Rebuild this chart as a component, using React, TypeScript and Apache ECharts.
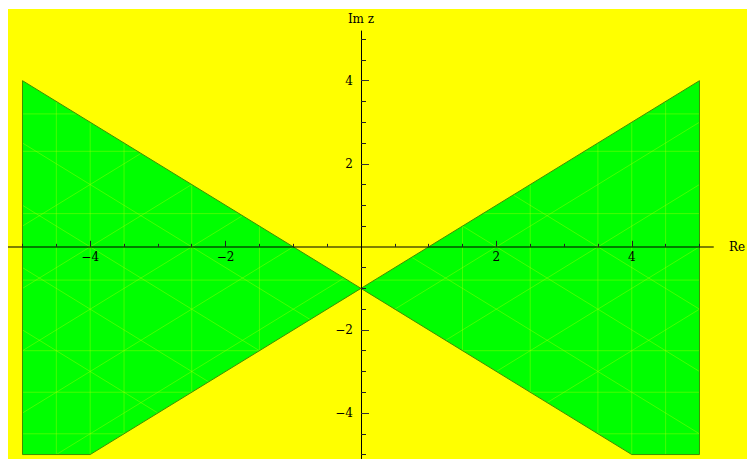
import React, { useEffect, useRef } from "react";
import * as echarts from "echarts";

// Region |Im z + 1| <= |Re z| clipped to the plot box
const leftRegion: [number, number][] = [[-5, 4], [0, -1], [-4, -5], [-5, -5]];
const rightRegion: [number, number][] = [[5, 4], [0, -1], [4, -5], [5, -5]];
const regions = [leftRegion, rightRegion];

// faint plotting-mesh lines inside the regions (data coordinates)
const meshVerticals = [-4.5, -4, -3.5, -2.5, -1.5, 1.5, 2.5, 3.5, 4, 4.5];
const meshHorizontals = [-4.5, -3.5, -2.5, -0.8, 0.8, 2.3, 3.2];
const meshRising = [-6.5, -5, -3.5, -2, -0.5, 1, 2.5, 4, 5.5]; // y = x + c
const meshFalling = [-7, -5.5, -4, -2.5, 0.5, 2, 3.5]; // y = -x + c

const majorTicksX = [-4, -2, 2, 4];
const majorTicksY = [-4, -2, 2, 4];
const minorTicksX = [-5, -4.5, -3.5, -3, -2.5, -1.5, -1, -0.5, 0.5, 1, 1.5, 2.5, 3, 3.5, 4.5, 5];
const minorTicksY = [-5, -4.5, -3.5, -3, -2.5, -1.5, -1, -0.5, 0.5, 1, 1.5, 2.5, 3, 3.5, 4.5, 5];

const xRange = { min: -5.214, max: 5.2 };
const yRange = { min: -5.107, max: 5.196 };

const GRID = { left: 1, top: 22, width: 705, height: 428 };
// pixel position of the origin inside the chart box
const X0 = 354;
const Y0 = 237.85;

const SERIF = "'DejaVu Serif', 'Liberation Serif', serif";
const fmt = (v: number) => String(v).replace("-", "\u2212");

type P = [number, number];

// Cyrus-Beck clip of segment a-b to convex polygon
function clipSegment(a: P, b: P, poly: P[]): [P, P] | null {
  let t0 = 0;
  let t1 = 1;
  const d: P = [b[0] - a[0], b[1] - a[1]];
  let area = 0;
  for (let i = 0; i < poly.length; i++) {
    const p = poly[i];
    const q = poly[(i + 1) % poly.length];
    area += p[0] * q[1] - q[0] * p[1];
  }
  const s = area > 0 ? 1 : -1;
  for (let i = 0; i < poly.length; i++) {
    const p = poly[i];
    const q = poly[(i + 1) % poly.length];
    const e: P = [q[0] - p[0], q[1] - p[1]];
    const n: P = s > 0 ? [-e[1], e[0]] : [e[1], -e[0]];
    const num = n[0] * (a[0] - p[0]) + n[1] * (a[1] - p[1]);
    const den = n[0] * d[0] + n[1] * d[1];
    if (Math.abs(den) < 1e-12) {
      if (num < 0) return null;
      continue;
    }
    const t = -num / den;
    if (den > 0) t0 = Math.max(t0, t);
    else t1 = Math.min(t1, t);
    if (t0 > t1) return null;
  }
  return [
    [a[0] + d[0] * t0, a[1] + d[1] * t0],
    [a[0] + d[0] * t1, a[1] + d[1] * t1],
  ];
}

function meshSegments(): [P, P][] {
  const segs: [P, P][] = [];
  meshVerticals.forEach((x) => segs.push([[x, -10], [x, 10]]));
  meshHorizontals.forEach((y) => segs.push([[-10, y], [10, y]]));
  meshRising.forEach((c) => segs.push([[-10, -10 + c], [10, 10 + c]]));
  meshFalling.forEach((c) => segs.push([[-10, 10 + c], [10, -10 + c]]));
  return segs;
}

export default function App() {
  const ref = useRef<HTMLDivElement>(null);
  useEffect(() => {
    if (!ref.current) return;
    const chart = echarts.init(ref.current, undefined, { renderer: "svg" });
    const xOffset = Y0 - (GRID.top + GRID.height);
    const yOffset = GRID.left - X0;
    const segs = meshSegments();
    chart.setOption({
      animation: false,
      backgroundColor: "#ffff00",
      grid: { ...GRID, containLabel: false, outerBoundsMode: "none" },
      xAxis: [
        {
          type: "value",
          position: "bottom",
          offset: xOffset,
          min: xRange.min,
          max: xRange.max,
          z: 10,
          name: "Re",
          nameLocation: "end",
          nameGap: 16,
          nameTextStyle: { fontFamily: SERIF, fontSize: 12, color: "#000" },
          axisLine: { show: true, onZero: false, lineStyle: { color: "rgba(0,0,0,0.5)", width: 2 } },
          axisTick: { show: true, inside: true, length: 6, customValues: majorTicksX, lineStyle: { color: "#222", width: 1 } },
          axisLabel: { show: true, margin: 4, customValues: majorTicksX, formatter: fmt, fontFamily: SERIF, fontSize: 12, color: "#000" },
          splitLine: { show: false },
        },
        {
          type: "value",
          position: "bottom",
          offset: xOffset,
          min: xRange.min,
          max: xRange.max,
          z: 10,
          axisLine: { show: false, onZero: false },
          axisTick: { show: true, inside: true, length: 3, customValues: minorTicksX, lineStyle: { color: "#222", width: 1 } },
          axisLabel: { show: false },
          splitLine: { show: false },
        },
      ],
      yAxis: [
        {
          type: "value",
          position: "left",
          offset: yOffset,
          min: yRange.min,
          max: yRange.max,
          z: 10,
          name: "Im z",
          nameLocation: "end",
          nameGap: 6,
          nameTextStyle: { fontFamily: SERIF, fontSize: 12, color: "#000" },
          axisLine: { show: true, onZero: false, lineStyle: { color: "#000", width: 1 } },
          axisTick: { show: true, inside: true, length: 8, customValues: majorTicksY, lineStyle: { color: "#333", width: 1 } },
          axisLabel: { show: true, margin: 8, customValues: majorTicksY, formatter: fmt, fontFamily: SERIF, fontSize: 12, color: "#000" },
          splitLine: { show: false },
        },
        {
          type: "value",
          position: "left",
          offset: yOffset,
          min: yRange.min,
          max: yRange.max,
          z: 10,
          axisLine: { show: false, onZero: false },
          axisTick: { show: true, inside: true, length: 5, customValues: minorTicksY, lineStyle: { color: "#222", width: 1 } },
          axisLabel: { show: false },
          splitLine: { show: false },
        },
      ],
      series: [
        {
          type: "custom",
          coordinateSystem: "cartesian2d",
          xAxisIndex: 0,
          yAxisIndex: 0,
          clip: false,
          data: regions.map((r) => r[0]),
          renderItem: (params: any, api: any) => {
            const poly = regions[params.dataIndex] as P[];
            const pts = poly.map((p) => api.coord(p));
            const children: any[] = [
              { type: "polygon", shape: { points: pts }, style: { fill: "#00ff00", stroke: "none" } },
            ];
            segs.forEach(([a, b]) => {
              const c = clipSegment(a, b, poly);
              if (!c) return;
              const p1 = api.coord(c[0]);
              const p2 = api.coord(c[1]);
              children.push({
                type: "line",
                shape: { x1: p1[0], y1: p1[1], x2: p2[0], y2: p2[1] },
                style: { stroke: "rgba(170,255,0,0.4)", lineWidth: 1 },
              });
            });
            children.push({
              type: "polygon",
              shape: { points: pts },
              style: { fill: "none", stroke: "#3f8f00", lineWidth: 1 },
            });
            return { type: "group", children };
          },
        },
      ],
    });
    return () => chart.dispose();
  }, []);
  return <div ref={ref} style={{ width: 748, height: 450, marginLeft: -1, marginTop: 1 }} />;
}
